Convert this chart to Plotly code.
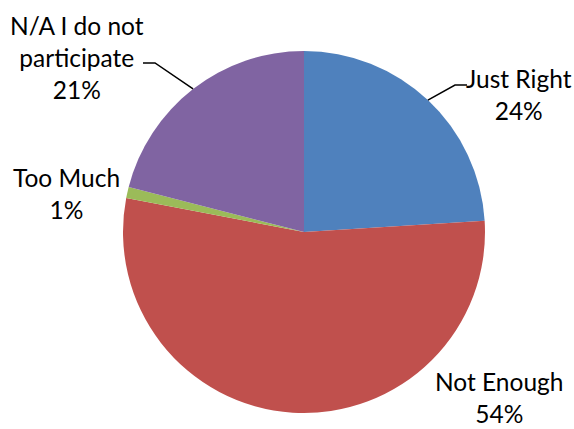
import math
import plotly.graph_objects as go

categories = ["Just Right", "Not Enough", "Too Much", "N/A I do not<br>participate"]
values = [24, 54, 1, 21]
colors = ["#4F81BD", "#C0504D", "#9BBB59", "#8064A2"]

W, H = 574, 429
CX, CY, R = 304, 232, 181

fig = go.Figure(go.Pie(
    labels=categories,
    values=values,
    sort=False,
    direction="clockwise",
    rotation=0,
    marker=dict(colors=colors, line=dict(width=0)),
    textinfo="none",
    hoverinfo="label+percent",
    domain=dict(x=[(CX - R) / W, (CX + R) / W], y=[1 - (CY + R) / H, 1 - (CY - R) / H]),
    showlegend=False,
))

total = sum(values)
label_pos = [(519, 94), (500, 397), (66, 193), (77, 57)]
# leader line elbows (only for slices that had them): (elbow, end)
leaders = {0: ((455, 85), (467, 85)), 3: ((155, 63), (143, 63))}

annotations = []
shapes = []
cum = 0
for i, (cat, v) in enumerate(zip(categories, values)):
    pct = round(100 * v / total)
    x, y = label_pos[i]
    annotations.append(dict(
        x=x / W, y=1 - y / H, xref="paper", yref="paper",
        text=f"{cat}<br>{pct}%", showarrow=False, align="center",
        xanchor="center", yanchor="middle",
        font=dict(family="Lato, Calibri, sans-serif", size=24.5, color="#000000"),
    ))
    mid = (cum + v / 2) / total * 2 * math.pi
    cum += v
    if i in leaders:
        ex = CX + R * math.sin(mid)
        ey = CY - R * math.cos(mid)
        (bx, by), (tx, ty) = leaders[i]
        path = f"M {ex/W},{1-ey/H} L {bx/W},{1-by/H} L {tx/W},{1-ty/H}"
        shapes.append(dict(type="path", xref="paper", yref="paper", path=path,
                           line=dict(color="#000000", width=1.5)))

fig.update_layout(
    width=W, height=H,
    margin=dict(l=0, r=0, t=0, b=0),
    paper_bgcolor="#FFFFFF",
    plot_bgcolor="#FFFFFF",
    annotations=annotations,
    shapes=shapes,
)

fig.write_html("out.html", config={"displayModeBar": False},
               post_script="document.body.style.margin='0';document.body.style.overflow='hidden';")
